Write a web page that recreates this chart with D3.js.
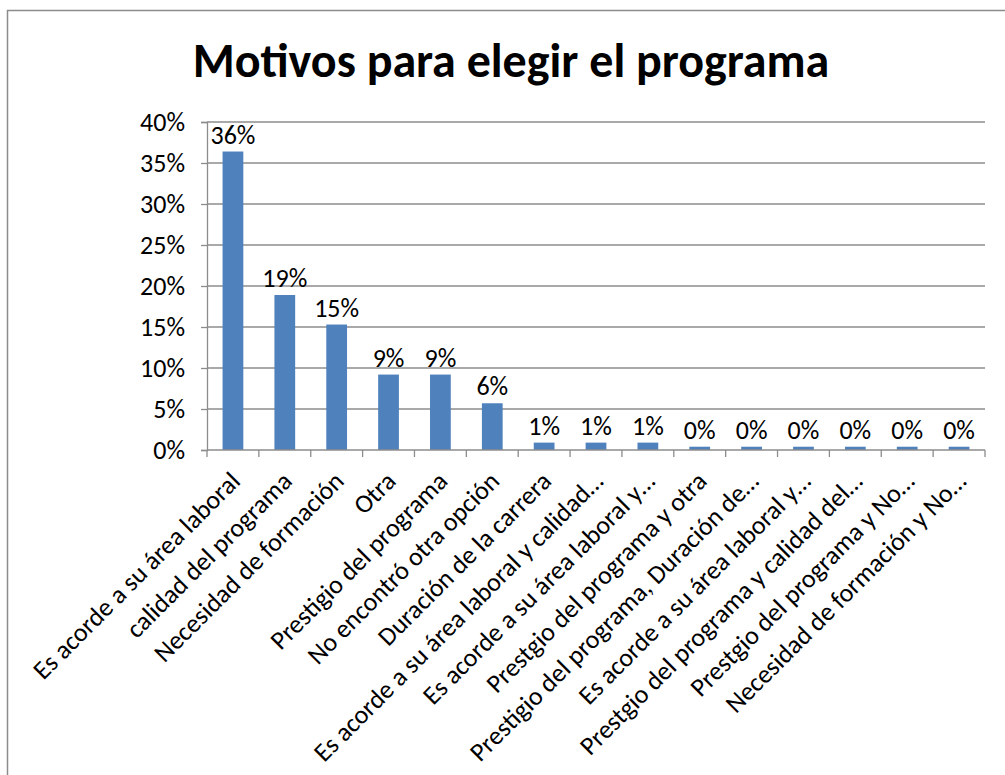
<!DOCTYPE html>
<html>
<head>
<meta charset="utf-8">
<script src="https://cdn.jsdelivr.net/npm/d3@7"></script>
<style>
  html, body { margin: 0; padding: 0; background: #fff; }
  svg { display: block; }
  text { font-family: Carlito, Calibri, Lato, "Open Sans", sans-serif; fill: #000; }
</style>
</head>
<body>
<svg id="chart" width="1005" height="775"></svg>
<script>
// Motives for choosing the programme (share of respondents)
const categories = [
  "Es acorde a su área laboral",
  "calidad del programa",
  "Necesidad de formación",
  "Otra",
  "Prestigio del programa",
  "No encontró otra opción",
  "Duración de la carrera",
  "Es acorde a su área laboral y calidad…",
  "Es acorde a su área laboral y…",
  "Prestgio del programa y otra",
  "Prestigio del programa, Duración de…",
  "Es acorde a su área laboral y…",
  "Prestgio del programa y calidad del…",
  "Prestgio del programa y No…",
  "Necesidad de formación y No…"
];
const values = [0.364, 0.189, 0.153, 0.092, 0.092, 0.057, 0.009, 0.009, 0.009,
                0.004, 0.004, 0.004, 0.004, 0.004, 0.004];
const yTicks = [0, 0.05, 0.10, 0.15, 0.20, 0.25, 0.30, 0.35, 0.40];
const title = "Motivos para elegir el programa";

const svg = d3.select("#chart");
const plotLeft = 207, plotRight = 985, plotTop = 122, plotBottom = 450;
const labelSize = 26;

// outer frame
svg.append("rect")
  .attr("x", 7.5).attr("y", 10.5)
  .attr("width", 1100).attr("height", 900)
  .attr("fill", "none").attr("stroke", "#8c8c8c").attr("stroke-width", 1.5);

svg.append("text")
  .attr("x", 511).attr("y", 77)
  .attr("text-anchor", "middle")
  .attr("font-size", 48).attr("font-weight", "bold")
  .text(title);

const x = d3.scaleBand().domain(d3.range(categories.length))
  .range([plotLeft, plotRight]).paddingInner(0.6).paddingOuter(0.3);
const xGrid = d3.scaleBand().domain(d3.range(categories.length)).range([plotLeft, plotRight]);
const y = d3.scaleLinear().domain([0, 0.40]).range([plotBottom, plotTop]);

// horizontal gridlines
svg.append("g").selectAll("line").data(yTicks.slice(1)).join("line")
  .attr("x1", plotLeft).attr("x2", plotRight)
  .attr("y1", d => y(d)).attr("y2", d => y(d))
  .attr("stroke", "#8c8c8c").attr("stroke-width", 1.3);

// y axis
const yAxis = svg.append("g").attr("transform", `translate(${plotLeft},0)`)
  .call(d3.axisLeft(y).tickValues(yTicks).tickFormat(d3.format(".0%")).tickSize(6).tickPadding(16));
yAxis.select(".domain").attr("stroke", "#8c8c8c").attr("stroke-width", 1.3);
yAxis.selectAll(".tick line").attr("stroke", "#8c8c8c").attr("stroke-width", 1.3);
yAxis.selectAll(".tick text").attr("font-size", labelSize).attr("font-family", null).attr("fill", "#000");

// bars
svg.append("g").selectAll("rect").data(values).join("rect")
  .attr("x", (d, i) => x(i)).attr("width", x.bandwidth())
  .attr("y", d => y(d)).attr("height", d => y(0) - y(d))
  .attr("fill", "#4f81bd");

// x axis with ticks at band boundaries
const xAxisG = svg.append("g").attr("transform", `translate(0,${plotBottom})`);
xAxisG.append("line").attr("x1", plotLeft).attr("x2", plotRight)
  .attr("stroke", "#8c8c8c").attr("stroke-width", 1.3);
xAxisG.selectAll("line.tk").data(d3.range(categories.length + 1)).join("line")
  .attr("class", "tk")
  .attr("x1", i => plotLeft + i * xGrid.step()).attr("x2", i => plotLeft + i * xGrid.step())
  .attr("y1", 0).attr("y2", 7)
  .attr("stroke", "#8c8c8c").attr("stroke-width", 1.3);

// value labels
svg.append("g").selectAll("text").data(values).join("text")
  .attr("x", (d, i) => x(i) + x.bandwidth() / 2)
  .attr("y", d => y(d) - 8)
  .attr("text-anchor", "middle").attr("font-size", labelSize)
  .text(d => d3.format(".0%")(d));

// rotated category labels
svg.append("g").selectAll("text").data(categories).join("text")
  .attr("transform", (d, i) => `translate(${xGrid(i) + xGrid.bandwidth() / 2 - 4},${plotBottom + 20}) rotate(-45)`)
  .attr("text-anchor", "end").attr("font-size", labelSize)
  .attr("dy", "0.69em")
  .text(d => d);
</script>
</body>
</html>
